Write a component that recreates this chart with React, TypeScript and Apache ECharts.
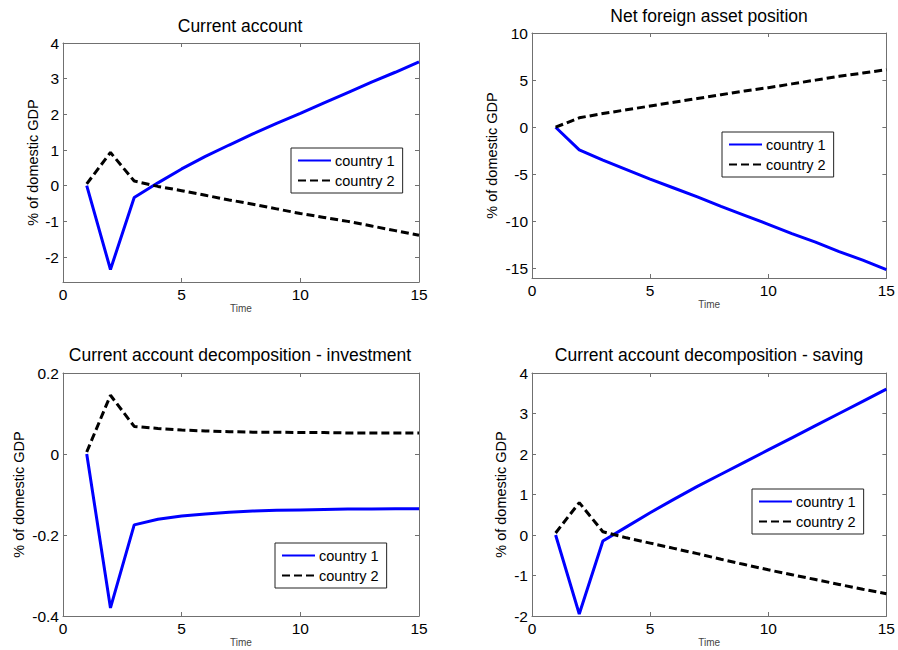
import React, { useEffect, useRef } from 'react';
import * as echarts from 'echarts';

// ---------------- data ----------------
const periods = [1, 2, 3, 4, 5, 6, 7, 8, 9, 10, 11, 12, 13, 14, 15];
const seriesNames = ['country 1', 'country 2'];
const panelTitles = [
  'Current account',
  'Net foreign asset position',
  'Current account decomposition - investment',
  'Current account decomposition - saving',
];
const xAxisName = 'Time';
const yAxisName = '% of domestic GDP';

const caCountry1 = [0, -2.35, -0.33, 0.08, 0.47, 0.82, 1.14, 1.45, 1.75, 2.03, 2.32, 2.61, 2.9, 3.18, 3.47];
const caCountry2 = [0.05, 0.93, 0.13, -0.02, -0.14, -0.27, -0.4, -0.52, -0.65, -0.78, -0.89, -1.0, -1.13, -1.26, -1.39];

const nfaCountry1 = [0, -2.4, -3.5, -4.5, -5.5, -6.45, -7.4, -8.4, -9.35, -10.3, -11.3, -12.2, -13.2, -14.1, -15.1];
const nfaCountry2 = [0, 1.0, 1.45, 1.85, 2.25, 2.65, 3.05, 3.45, 3.85, 4.2, 4.6, 5.0, 5.4, 5.75, 6.1];

const invCountry1 = [0, -0.38, -0.175, -0.161, -0.153, -0.148, -0.144, -0.141, -0.139, -0.138, -0.137, -0.136, -0.136, -0.135, -0.135];
const invCountry2 = [0.005, 0.145, 0.068, 0.063, 0.059, 0.057, 0.055, 0.054, 0.054, 0.053, 0.053, 0.052, 0.052, 0.052, 0.052];

const savCountry1 = [0, -1.95, -0.15, 0.2, 0.55, 0.88, 1.2, 1.5, 1.8, 2.1, 2.4, 2.7, 3.0, 3.3, 3.6];
const savCountry2 = [0.05, 0.8, 0.08, -0.07, -0.2, -0.33, -0.46, -0.6, -0.73, -0.86, -0.98, -1.1, -1.22, -1.34, -1.45];

const yMins = [-2.7, -16, -0.4, -2];
const yMaxs = [4, 10, 0.2, 4];
const ySteps = [1, 5, 0.2, 1];
// --------------------------------------

const FONT = '"Liberation Sans", Arial, Helvetica, sans-serif';
const AXIS_COLOR = '#707070';
const BLUE = '#0000ff';

const layout = [
  { grid: { left: 63, top: 43, width: 356, height: 239 }, yGap: 23, legend: { left: 291, top: 148 }, title: { x: 240, y: 26 }, hideMin: true },
  { grid: { left: 532, top: 33, width: 356, height: 245 }, yGap: 33, legend: { left: 722, top: 132 }, title: { x: 709, y: 16 }, hideMin: true },
  { grid: { left: 63, top: 373, width: 356, height: 243 }, yGap: 37, legend: { left: 275, top: 543 }, title: { x: 240, y: 355 }, hideMin: false },
  { grid: { left: 532, top: 373, width: 356, height: 243 }, yGap: 24, legend: { left: 752, top: 489 }, title: { x: 709, y: 355 }, hideMin: false },
];

const panelData = [
  [caCountry1, caCountry2],
  [nfaCountry1, nfaCountry2],
  [invCountry1, invCountry2],
  [savCountry1, savCountry2],
];

function buildOption() {
  const grid: any[] = [];
  const xAxis: any[] = [];
  const yAxis: any[] = [];
  const series: any[] = [];
  const legend: any[] = [];
  const graphic: any[] = [];

  const axisLine = { show: true, onZero: false, lineStyle: { color: AXIS_COLOR, width: 1 } };
  const axisTick = { show: true, inside: true, length: 4, lineStyle: { color: AXIS_COLOR } };

  layout.forEach((L, i) => {
    grid.push({ ...L.grid, containLabel: false });
    xAxis.push({
      type: 'value', gridIndex: i, min: 0, max: 15, interval: 5, position: 'bottom',
      name: xAxisName, nameLocation: 'middle', nameGap: 21,
      nameTextStyle: { fontSize: 10, color: '#444', fontFamily: FONT },
      axisLine, axisTick,
      axisLabel: { color: '#000', fontSize: 15.5, fontFamily: FONT, margin: 4 },
      splitLine: { show: false },
    });
    xAxis.push({
      type: 'value', gridIndex: i, min: 0, max: 15, interval: 5, position: 'top',
      axisLine, axisTick, axisLabel: { show: false }, splitLine: { show: false },
    });
    yAxis.push({
      type: 'value', gridIndex: i, min: yMins[i], max: yMaxs[i],
      minInterval: ySteps[i], maxInterval: ySteps[i], position: 'left',
      name: yAxisName, nameLocation: 'middle', nameGap: L.yGap,
      nameTextStyle: { fontSize: 14.5, color: '#000', fontFamily: FONT },
      axisLine, axisTick,
      axisLabel: { color: '#000', fontSize: 15.5, fontFamily: FONT, margin: 4, showMinLabel: !L.hideMin },
      splitLine: { show: false },
    });
    yAxis.push({
      type: 'value', gridIndex: i, min: yMins[i], max: yMaxs[i],
      minInterval: ySteps[i], maxInterval: ySteps[i], position: 'right',
      axisLine, axisTick, axisLabel: { show: false }, splitLine: { show: false },
    });
    const [c1, c2] = panelData[i];
    series.push({
      type: 'line', name: seriesNames[0], xAxisIndex: 2 * i, yAxisIndex: 2 * i,
      data: periods.map((x, k) => [x, c1[k]]),
      symbol: 'none', lineStyle: { color: BLUE, width: 3 }, itemStyle: { color: BLUE },
      z: 2,
    });
    series.push({
      type: 'line', name: seriesNames[1], xAxisIndex: 2 * i, yAxisIndex: 2 * i,
      data: periods.map((x, k) => [x, c2[k]]),
      symbol: 'none', lineStyle: { color: '#000', width: 3, type: [8, 4] }, itemStyle: { color: '#000' },
      z: 3,
    });
    legend.push({
      left: L.legend.left, top: L.legend.top, orient: 'vertical',
      data: seriesNames, itemWidth: 33, itemHeight: 12, itemGap: 5,
      padding: [5, 8, 5, 6], borderColor: '#222', borderWidth: 1, borderRadius: 0,
      backgroundColor: '#fff', selectedMode: false,
      itemStyle: { opacity: 0 },
      textStyle: { fontSize: 14.5, color: '#000', fontFamily: FONT, padding: [0, 0, 0, -1] },
      z: 10,
    });
    graphic.push({
      type: 'text', x: L.title.x, y: L.title.y,
      style: {
        text: panelTitles[i], fill: '#000', fontSize: 17.5, fontFamily: FONT,
        align: 'center', verticalAlign: 'middle', textAlign: 'center', textVerticalAlign: 'middle',
      },
    });
  });

  return {
    animation: false,
    backgroundColor: '#fff',
    grid, xAxis, yAxis, series, legend, graphic,
  };
}

export default function App() {
  const ref = useRef<HTMLDivElement | null>(null);
  useEffect(() => {
    if (!ref.current) return;
    const chart = echarts.init(ref.current, undefined, { renderer: 'svg' });
    chart.setOption(buildOption() as any);
    return () => chart.dispose();
  }, []);
  return (
    <div
      ref={ref}
      style={{ position: 'absolute', left: 0, top: 0, width: 898, height: 650, background: '#fff' }}
    />
  );
}
